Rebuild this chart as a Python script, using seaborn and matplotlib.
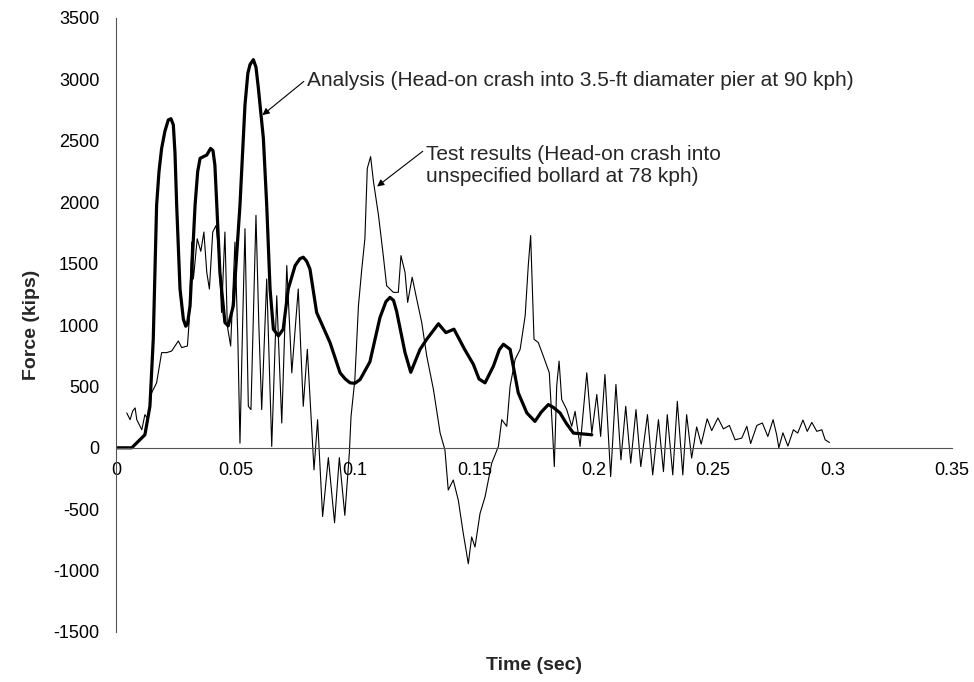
import matplotlib
matplotlib.use("Agg")
import matplotlib.pyplot as plt
import seaborn as sns
import pandas as pd

# ---- data ----
analysis_t = [0, 0.0066, 0.0121, 0.0142, 0.0156, 0.0170, 0.0180, 0.0191, 0.0205, 0.0219, 0.0230, 0.0240, 0.0247, 0.0254,
              0.0268, 0.0282, 0.0292, 0.0299, 0.0310, 0.0331, 0.0342, 0.0352, 0.0365, 0.0380, 0.0396, 0.0406, 0.0414, 0.0422,
              0.0435, 0.0456, 0.0470, 0.0491, 0.0519, 0.0540, 0.0552, 0.0561, 0.0575, 0.0586, 0.0596, 0.0617,
              0.0631, 0.0645, 0.0659, 0.0680, 0.0700, 0.0721, 0.0750, 0.0770, 0.0784, 0.0798, 0.0812, 0.0840,
              0.0896, 0.0938, 0.0960, 0.0980, 0.1000, 0.1022, 0.1063, 0.1105, 0.1130, 0.1147, 0.1162, 0.1175, 0.1210, 0.1234,
              0.1273, 0.1301, 0.1350, 0.1381, 0.1415, 0.1460, 0.1496, 0.1520, 0.1545, 0.1580, 0.1605, 0.1622,
              0.1650, 0.1684, 0.1720, 0.1754, 0.1780, 0.1810, 0.1830, 0.1859, 0.1885, 0.1915, 0.1992]
analysis_f = [0, 0, 106, 338, 884, 1975, 2250, 2438, 2580, 2670, 2680, 2630, 2400, 1975,
              1293, 1047, 990, 1006, 1156, 1975, 2250, 2357, 2370, 2384, 2438, 2420, 2302, 1975,
              1429, 1020, 993, 1156, 1975, 2793, 3050, 3120, 3161, 3100, 2929, 2520,
              1975, 1293, 966, 911, 966, 1293, 1484, 1540, 1552, 1520, 1456, 1102,
              857, 611, 560, 529, 525, 556, 700, 1060, 1190, 1225, 1200, 1110, 775, 615,
              802, 884, 1010, 938, 966, 800, 680, 560, 529, 665, 800, 843,
              802, 448, 284, 215, 290, 352, 330, 284, 200, 120, 106]

test_t = [0.0045, 0.0059, 0.0070, 0.0080, 0.0087, 0.0108, 0.0121, 0.0135, 0.0149, 0.0170,
          0.0191, 0.0212, 0.0233, 0.0261, 0.0275, 0.0299, 0.0306, 0.0317, 0.0324, 0.0340,
          0.0355, 0.0368, 0.0380, 0.0391, 0.0405, 0.0419, 0.0430, 0.0442, 0.0456, 0.0466,
          0.0480, 0.0498, 0.0510, 0.0519, 0.0530, 0.0540, 0.0554, 0.0565, 0.0586, 0.0598,
          0.0610, 0.0631, 0.0652, 0.0673, 0.0694, 0.0715, 0.0736, 0.0763, 0.0784, 0.0801,
          0.0829, 0.0844, 0.0865, 0.0889, 0.0915, 0.0935, 0.0958, 0.0977, 0.0984, 0.1000,
          0.1015, 0.1029, 0.1042, 0.1052, 0.1066, 0.1078, 0.1099, 0.1119, 0.1133, 0.1161,
          0.1182, 0.1193, 0.1210, 0.1221, 0.1240, 0.1259, 0.1280, 0.1301, 0.1329, 0.1357,
          0.1377, 0.1391, 0.1412, 0.1433, 0.1454, 0.1475, 0.1489, 0.1503, 0.1524, 0.1545,
          0.1573, 0.1601, 0.1615, 0.1636, 0.1650, 0.1671, 0.1692, 0.1713, 0.1726, 0.1736,
          0.1750, 0.1768, 0.1789, 0.1814, 0.1828, 0.1835, 0.1845, 0.1855, 0.1866, 0.1887,
          0.1908, 0.1922, 0.1943, 0.1971, 0.1992, 0.2013, 0.2029, 0.2047, 0.2071, 0.2093,
          0.2114, 0.2134, 0.2155, 0.2177, 0.2197, 0.2225, 0.2247, 0.2271, 0.2292, 0.2308,
          0.2331, 0.2350, 0.2373, 0.2389, 0.2410, 0.2431, 0.2450, 0.2475, 0.2494, 0.2520,
          0.2543, 0.2568, 0.2592, 0.2620, 0.2641, 0.2657, 0.2683, 0.2706, 0.2729, 0.2751,
          0.2766, 0.2775, 0.2792, 0.2813, 0.2836, 0.2854, 0.2876, 0.2894, 0.2913, 0.2934,
          0.2955, 0.2969, 0.2987]
test_f = [284, 229, 300, 325, 229, 147, 270, 229, 447, 529,
          775, 775, 788, 870, 816, 829, 1020, 1675, 1375, 1702,
          1600, 1757, 1429, 1293, 1757, 1811, 1600, 1102, 1757, 993,
          829, 1675, 900, 38, 1000, 1784, 338, 311, 1893, 1000,
          311, 1375, 11, 1238, 202, 1484, 611, 1293, 338, 802,
          -180, 229, -560, -80, -610, -80, -550, -40, 256, 556,
          1156, 1456, 1702, 2275, 2371, 2166, 1893, 1565, 1320, 1266,
          1266, 1565, 1429, 1184, 1389, 1211, 1020, 747, 475, 120,
          -16, -344, -262, -426, -698, -944, -726, -808, -535, -400,
          -125, 11, 229, 175, 502, 720, 802, 1075, 1484, 1729,
          884, 857, 747, 611, 120, -153, 502, 706, 393, 311,
          175, 297, 11, 611, 120, 434, 93, 597, -235, 516,
          -98, 338, -125, 311, -153, 270, -221, 229, -194, 270,
          -221, 379, -221, 270, -84, 170, 30, 236, 140, 243,
          154, 182, 65, 79, 175, 35, 182, 202, 92, 229,
          106, 0, 122, 14, 147, 120, 226, 134, 207, 134,
          147, 65, 43]

x_ticks = [0, 0.05, 0.1, 0.15, 0.2, 0.25, 0.3, 0.35]
x_ticklabels = ["0", "0.05", "0.1", "0.15", "0.2", "0.25", "0.3", "0.35"]
y_ticks = [-1500, -1000, -500, 0, 500, 1000, 1500, 2000, 2500, 3000, 3500]
y_ticklabels = ["-1500", "-1000", "-500", "0", "500", "1000", "1500", "2000",
                "2500", "3000", "3500"]

analysis_label = "Analysis (Head-on crash into 3.5-ft diamater pier at 90 kph)"
test_label = "Test results (Head-on crash into\nunspecified bollard at 78 kph)"

# ---- plotting ----
sns.set_style("white")
plt.rcParams["font.family"] = ["Liberation Sans", "DejaVu Sans"]
plt.rcParams["axes.unicode_minus"] = False

fig = plt.figure(figsize=(9.74, 6.82), dpi=100)
ax = fig.add_axes([116 / 974, 1 - 632 / 682, (952 - 116) / 974, (632 - 18) / 682])

df_test = pd.DataFrame({"t": test_t, "f": test_f})
df_an = pd.DataFrame({"t": analysis_t, "f": analysis_f})
sns.lineplot(data=df_test, x="t", y="f", ax=ax, color="black", linewidth=0.8,
             sort=False, estimator=None)
sns.lineplot(data=df_an, x="t", y="f", ax=ax, color="black", linewidth=2.3,
             sort=False, estimator=None)

ax.set_xlim(0, 0.35)
ax.set_ylim(-1500, 3500)
ax.set_xticks(x_ticks)
ax.set_xticklabels(x_ticklabels)
ax.set_yticks(y_ticks)
ax.set_yticklabels(y_ticklabels)

for s in ["top", "right"]:
    ax.spines[s].set_visible(False)
ax.spines["bottom"].set_position(("data", 0))
for s in ["left", "bottom"]:
    ax.spines[s].set_color("#555555")
    ax.spines[s].set_linewidth(0.8)

ax.tick_params(axis="both", which="major", direction="out", length=6, width=0.8,
               color="#555555", labelsize=13, labelcolor="black")
ax.tick_params(axis="x", pad=4)
ax.tick_params(axis="y", pad=6)

ax.set_xlabel("")
ax.set_ylabel("")
fig.text(534 / 974, 1 - 666 / 682, "Time (sec)", ha="center", va="center",
         fontsize=14, fontweight="bold")
fig.text(31 / 974, 1 - 325 / 682, "Force (kips)", ha="center", va="center",
         rotation=90, fontsize=14, fontweight="bold")

arrow = dict(arrowstyle="-|>", color="black", lw=0.8, mutation_scale=10,
             shrinkA=0, shrinkB=0)
ax.annotate(analysis_label, xy=(0.0613, 2709), xytext=(0.0800, 2995),
            fontsize=15, ha="left", va="center",
            arrowprops=dict(arrow, relpos=(-0.005, 0.45)))
ax.annotate(test_label, xy=(0.1093, 2128), xytext=(0.1298, 2300),
            fontsize=15, ha="left", va="center", linespacing=1.2,
            arrowprops=dict(arrow, relpos=(-0.01, 0.85)))

fig.savefig("out.png", dpi=100)
